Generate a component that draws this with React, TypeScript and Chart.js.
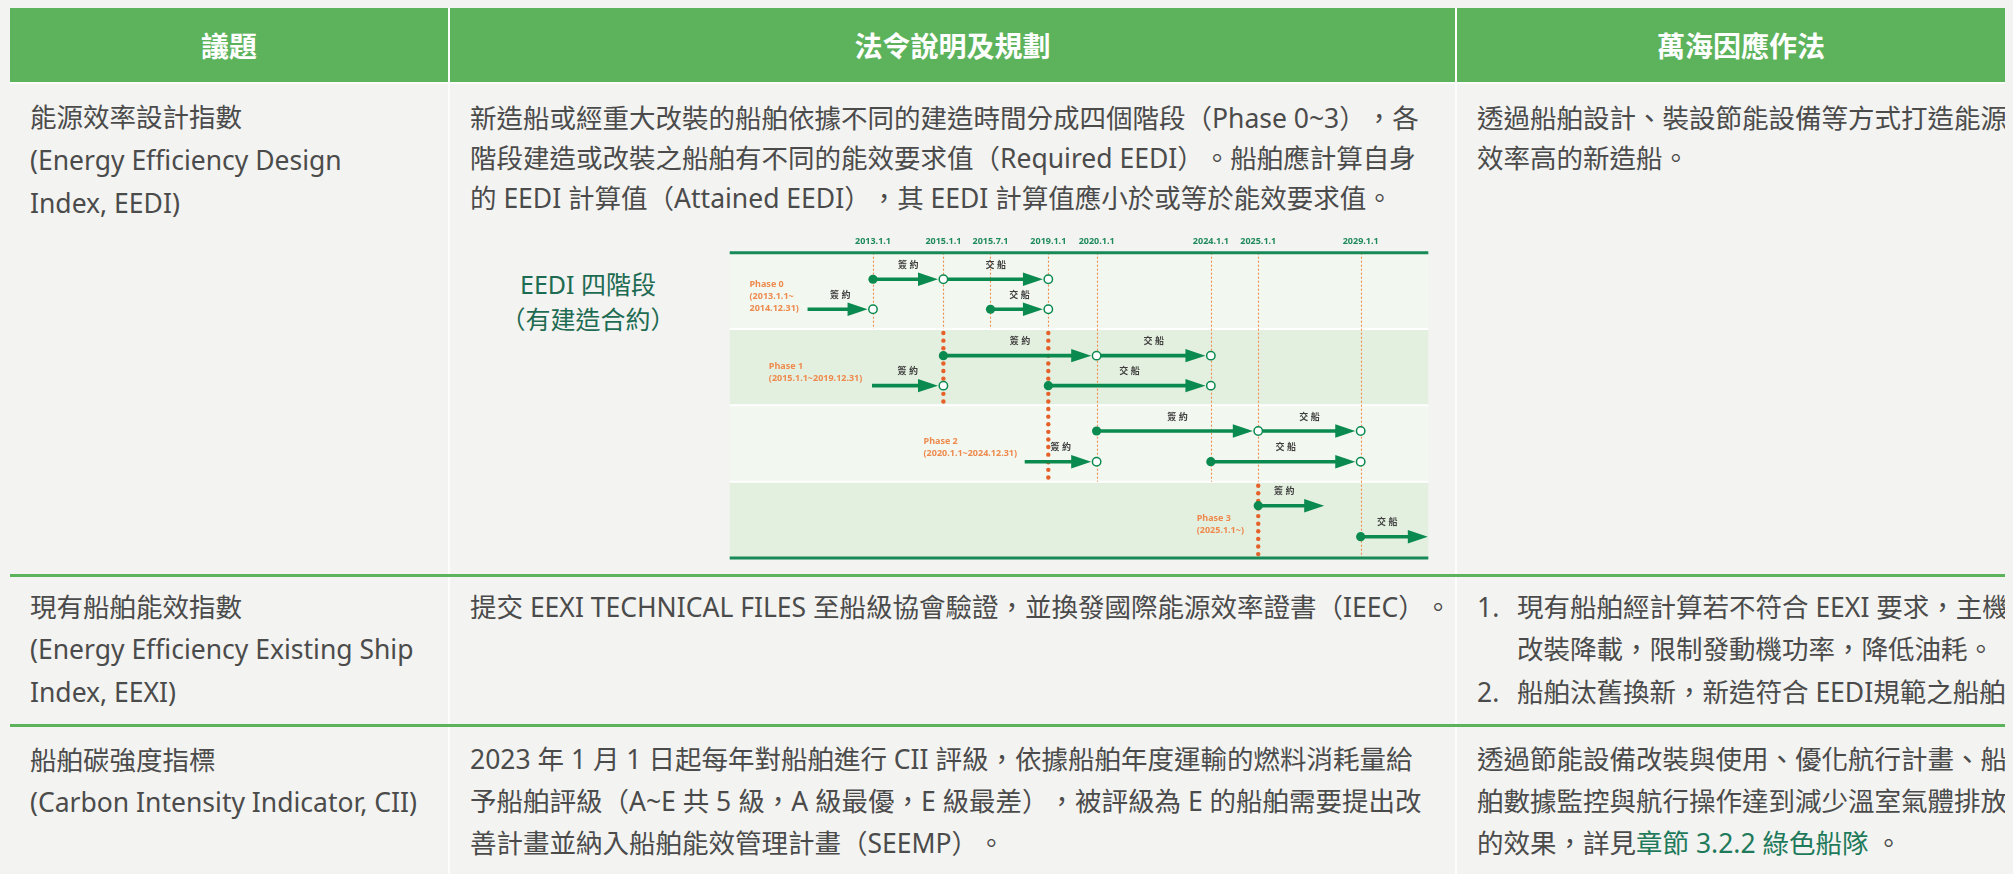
import React, { useEffect, useRef } from 'react';
import { Chart, registerables } from 'chart.js';

Chart.register(...registerables);

// ---------------- Table content ----------------
const headerTitles = ['議題', '法令說明及規劃', '萬海因應作法'];

const topicLines = [
  ['能源效率設計指數', '(Energy Efficiency Design', 'Index, EEDI)'],
  ['現有船舶能效指數', '(Energy Efficiency Existing Ship', 'Index, EEXI)'],
  ['船舶碳強度指標', '(Carbon Intensity Indicator, CII)'],
];

const regulationLines = [
  [
    '新造船或經重大改裝的船舶依據不同的建造時間分成四個階段（Phase 0~3），各',
    '階段建造或改裝之船舶有不同的能效要求值（Required EEDI）。船舶應計算自身',
    '的 EEDI 計算值（Attained EEDI），其 EEDI 計算值應小於或等於能效要求值。',
  ],
  ['提交 EEXI TECHNICAL FILES 至船級協會驗證，並換發國際能源效率證書（IEEC）。'],
  [
    '2023 年 1 月 1 日起每年對船舶進行 CII 評級，依據船舶年度運輸的燃料消耗量給',
    '予船舶評級（A~E 共 5 級，A 級最優，E 級最差），被評級為 E 的船舶需要提出改',
    '善計畫並納入船舶能效管理計畫（SEEMP）。',
  ],
];

const responseRow1 = ['透過船舶設計、裝設節能設備等方式打造能源', '效率高的新造船。'];
const responseRow2Items = [
  ['現有船舶經計算若不符合 EEXI 要求，主機', '改裝降載，限制發動機功率，降低油耗。'],
  ['船舶汰舊換新，新造符合 EEDI規範之船舶。'],
];
const responseRow3 = ['透過節能設備改裝與使用、優化航行計畫、船', '舶數據監控與航行操作達到減少溫室氣體排放'];
const responseRow3Last = ['的效果，詳見', '章節 3.2.2 綠色船隊', ' 。'];

const figureTitle = ['EEDI 四階段', '（有建造合約）'];

// ---------------- Timeline chart data ----------------
const dates = ['2013.1.1', '2015.1.1', '2015.7.1', '2019.1.1', '2020.1.1', '2024.1.1', '2025.1.1', '2029.1.1'];
// schematic positions of each milestone along the timeline axis
const datePos = [144.5, 215.5, 263, 321.3, 370, 485.2, 533, 636.3];
const axisMax = 704.5;

const phaseNames = ['Phase 0', 'Phase 1', 'Phase 2', 'Phase 3'];
const phaseRanges = [['(2013.1.1~', '2014.12.31)'], ['(2015.1.1~2019.12.31)'], ['(2020.1.1~2024.12.31)'], ['(2025.1.1~)']];
const phaseLabelX = [20, 39.5, 195.5, 471];
const phaseLabelY = [0.41, 1.485, 2.47, 3.48];

// lane offsets within each phase band
const laneY = [
  [0.348, 0.741],
  [0.349, 0.742],
  [0.336, 0.738],
  [0.315, 0.721],
];

const D = datePos;
const segPhase = [0, 0, 0, 0, 1, 1, 1, 1, 2, 2, 2, 2, 3, 3];
const segLane = [0, 0, 1, 1, 0, 0, 1, 1, 0, 0, 1, 1, 0, 1];
const segFrom = [D[0], D[1], 78.5, D[2], D[1], D[4], 143.5, D[3], D[4], D[6], 297.5, D[5], D[6], D[7]];
const segTo = [D[1], D[3], D[0], D[3], D[4], D[5], D[1], D[5], D[6], D[7], D[4], D[7], 599.5, 704];
const segStart = ['dot', 'ring', 'none', 'dot', 'dot', 'ring', 'none', 'dot', 'dot', 'ring', 'none', 'dot', 'dot', 'dot'];
const segEndRing = [true, true, true, true, true, true, true, true, true, true, true, true, false, false];
const segLabel = ['簽約', '交船', '簽約', '交船', '簽約', '交船', '簽約', '交船', '簽約', '交船', '簽約', '交船', '簽約', '交船'];

// vertical milestone guides: band ranges [from, to]
const thinRange: (number[] | null)[] = [[0, 1], [0, 1], [0, 1], [0, 1], [0, 3], [0, 3], [0, 3], [0, 4]];
const thickRange: (number[] | null)[] = [null, [1, 2], null, [1, 3], null, null, [3, 4], null];

// ---------------- Styles ----------------
const FONT = '"Noto Sans", "Noto Sans CJK TC", sans-serif';
const CANVAS_FONT = '"Noto Sans", "Noto Sans CJK TC"';
const HEADER_GREEN = '#5db35c';
const TEXT = '#4b4b4b';
const SEP = '#fcfcfb';
const ARROW_GREEN = '#0a8a4f';
const LINE_GREEN = '#178a58';
const DATE_GREEN = '#1f8a5b';
const ORANGE_THIN = '#f08b4f';
const ORANGE_THICK = '#e6602a';
const PHASE_ORANGE = '#ee8a4e';
const BAND_LIGHT = '#f2f7ef';
const BAND_DARK = '#e4f0df';
const RING_R = 4.2;
const HEAD_L = 20;
const HEAD_W = 6.7;

const timelinePlugin = {
  id: 'timeline',
  beforeDatasetsDraw(chart: any) {
    const { ctx, chartArea: ca, scales } = chart;
    const xs = scales.x;
    const ys = scales.y;
    const X = (v: number) => xs.getPixelForValue(v);
    const Y = (v: number) => ys.getPixelForValue(v);
    ctx.save();

    // bands
    for (let i = 0; i < 4; i++) {
      const t = Y(i);
      const b = Y(i + 1);
      ctx.fillStyle = i % 2 === 0 ? BAND_LIGHT : BAND_DARK;
      ctx.fillRect(ca.left, t, ca.right - ca.left, b - t);
    }
    ctx.strokeStyle = '#ffffff';
    ctx.lineWidth = 2;
    for (let i = 1; i < 4; i++) {
      ctx.beginPath();
      ctx.moveTo(ca.left, Y(i));
      ctx.lineTo(ca.right, Y(i));
      ctx.stroke();
    }

    // thin dotted guides
    ctx.strokeStyle = ORANGE_THIN;
    ctx.lineWidth = 1.1;
    ctx.setLineDash([2, 2]);
    thinRange.forEach((r, i) => {
      if (!r) return;
      const px = Math.round(X(datePos[i])) + 0.5;
      ctx.beginPath();
      ctx.moveTo(px, Y(r[0]));
      ctx.lineTo(px, Y(r[1]));
      ctx.stroke();
    });
    ctx.setLineDash([]);

    // thick dotted guides
    ctx.fillStyle = ORANGE_THICK;
    thickRange.forEach((r, i) => {
      if (!r) return;
      const px = X(datePos[i]);
      for (let yy = Y(r[0]) + 4; yy <= Y(r[1]) - 1; yy += 7.6) {
        ctx.beginPath();
        ctx.arc(px, yy, 2.2, 0, Math.PI * 2);
        ctx.fill();
      }
    });

    // arrows
    segPhase.forEach((ph, i) => {
      const yy = Y(ph + laneY[ph][segLane[i]]);
      const x0 = X(segFrom[i]);
      const x1 = X(segTo[i]);
      const sx = segStart[i] === 'ring' ? x0 + RING_R : x0;
      const tip = segEndRing[i] ? x1 - RING_R - 1.2 : x1;
      ctx.strokeStyle = ARROW_GREEN;
      ctx.lineWidth = 3.6;
      ctx.beginPath();
      ctx.moveTo(sx, yy);
      ctx.lineTo(tip - HEAD_L + 2, yy);
      ctx.stroke();
      ctx.fillStyle = ARROW_GREEN;
      ctx.beginPath();
      ctx.moveTo(tip, yy);
      ctx.lineTo(tip - HEAD_L, yy - HEAD_W);
      ctx.lineTo(tip - HEAD_L, yy + HEAD_W);
      ctx.closePath();
      ctx.fill();

      // label
      const mid = (x0 + x1) / 2 - (segEndRing[i] ? 0 : 7);
      ctx.fillStyle = '#3f3f3f';
      ctx.font = `bold 9px ${CANVAS_FONT}`;
      ctx.textAlign = 'center';
      ctx.textBaseline = 'middle';
      const chars = Array.from(segLabel[i]);
      chars.forEach((c, k) => {
        ctx.fillText(c, mid + (k - (chars.length - 1) / 2) * 11.5, yy - 14);
      });
    });

    // phase labels
    ctx.fillStyle = PHASE_ORANGE;
    ctx.font = `bold 9px ${CANVAS_FONT}`;
    ctx.textAlign = 'left';
    ctx.textBaseline = 'middle';
    phaseNames.forEach((name, i) => {
      const lines = [name, ...phaseRanges[i]];
      const bx = X(phaseLabelX[i]);
      const by = Y(phaseLabelY[i]);
      lines.forEach((l, k) => ctx.fillText(l, bx, by + k * 12));
    });

    // top & bottom rules
    ctx.strokeStyle = LINE_GREEN;
    ctx.lineWidth = 3;
    [0, 4].forEach((v) => {
      ctx.beginPath();
      ctx.moveTo(ca.left, Y(v));
      ctx.lineTo(ca.right, Y(v));
      ctx.stroke();
    });

    // milestone date labels
    ctx.fillStyle = DATE_GREEN;
    ctx.font = `bold 9px ${CANVAS_FONT}`;
    ctx.textAlign = 'center';
    ctx.textBaseline = 'middle';
    dates.forEach((d, i) => ctx.fillText(d, X(datePos[i]), Y(0) - 11));

    ctx.restore();
  },
};

function TimelineChart() {
  const ref = useRef<HTMLCanvasElement | null>(null);
  useEffect(() => {
    if (!ref.current) return;
    const dots: { x: number; y: number }[] = [];
    const rings: { x: number; y: number }[] = [];
    segPhase.forEach((ph, i) => {
      const y = ph + laneY[ph][segLane[i]];
      if (segStart[i] === 'dot') dots.push({ x: segFrom[i], y });
      if (segEndRing[i]) rings.push({ x: segTo[i], y });
    });
    const chart = new Chart(ref.current, {
      type: 'scatter',
      data: {
        datasets: [
          {
            label: 'dots',
            data: dots,
            pointRadius: 4.6,
            pointBackgroundColor: ARROW_GREEN,
            pointBorderWidth: 0,
            pointBorderColor: ARROW_GREEN,
            clip: false,
          } as any,
          {
            label: 'rings',
            data: rings,
            pointRadius: RING_R,
            pointBackgroundColor: '#ffffff',
            pointBorderColor: ARROW_GREEN,
            pointBorderWidth: 1.5,
            clip: false,
          } as any,
        ],
      },
      options: {
        animation: false,
        responsive: false,
        maintainAspectRatio: false,
        events: [],
        layout: { padding: { left: 2.5, right: 3, top: 22.7, bottom: 8 } },
        scales: {
          x: { type: 'linear', min: 0, max: axisMax, display: false },
          y: { type: 'linear', min: 0, max: 4, reverse: true, display: false },
        },
        plugins: { legend: { display: false }, tooltip: { enabled: false } },
      },
      plugins: [timelinePlugin],
    });
    return () => chart.destroy();
  }, []);
  return <canvas ref={ref} width={710} height={336} style={{ width: 710, height: 336, display: 'block' }} />;
}

// ---------------- Table layout ----------------
const COLW = [438, 1005, 568];
const ROW_H = [489.5, 147.5, 150];
const FIRST_CENTER = [33.8, 30.5, 33];

function Lines({ lines, lh }: { lines: React.ReactNode[]; lh: number }) {
  return (
    <>
      {lines.map((l, i) => (
        <div key={i} style={{ height: lh, lineHeight: lh + 'px', whiteSpace: 'pre' }}>
          {l}
        </div>
      ))}
    </>
  );
}

function Cell({ w, row, lh, children, extra }: { w: number; row: number; lh: number; children: React.ReactNode; extra?: React.ReactNode }) {
  return (
    <div
      style={{
        width: w,
        flex: 'none',
        boxSizing: 'border-box',
        paddingLeft: 20,
        paddingTop: FIRST_CENTER[row] - lh / 2,
        position: 'relative',
        overflow: 'visible',
      }}
    >
      {children}
      {extra}
    </div>
  );
}

const Sep = () => <div style={{ width: 2, flex: 'none', background: SEP }} />;

export default function App() {
  useEffect(() => {
    document.body.style.background = '#f3f3f1';
    document.body.style.margin = '8px';
    document.documentElement.style.overflow = 'hidden';
    document.body.style.overflow = 'hidden';
  }, []);

  const rowStyle = (i: number): React.CSSProperties => ({
    display: 'flex',
    height: ROW_H[i],
    borderTop: i > 0 ? `3px solid ${HEADER_GREEN}` : undefined,
  });

  return (
    <div
      style={{
        position: 'relative',
        width: 2003,
        height: 866,
        marginLeft: 2,
        overflow: 'hidden',
        fontFamily: FONT,
        fontSize: 26.5,
        color: TEXT,
        ['textSpacingTrim' as any]: 'space-all',
      }}
    >
      <div style={{ width: 2040 }}>
        {/* header */}
        <div style={{ display: 'flex', height: 74, borderBottom: `2px solid ${SEP}` }}>
          {headerTitles.map((t, i) => (
            <React.Fragment key={i}>
              {i > 0 && <div style={{ width: 2, flex: 'none', background: SEP }} />}
              <div
                style={{
                  width: COLW[i],
                  flex: 'none',
                  background: HEADER_GREEN,
                  color: '#ffffff',
                  fontWeight: 700,
                  fontSize: 28,
                  display: 'flex',
                  alignItems: 'center',
                  justifyContent: 'center',
                  whiteSpace: 'nowrap',
                }}
              >
                {t}
              </div>
            </React.Fragment>
          ))}
        </div>

        {/* row 1 */}
        <div style={rowStyle(0)}>
          <Cell w={COLW[0]} row={0} lh={43}>
            <Lines lines={topicLines[0]} lh={43} />
          </Cell>
          <Sep />
          <Cell
            w={COLW[1]}
            row={0}
            lh={40}
            extra={
              <>
                <div
                  style={{
                    position: 'absolute',
                    left: 18,
                    top: 182.5,
                    width: 240,
                    textAlign: 'center',
                    fontSize: 25,
                    lineHeight: '35px',
                    color: '#1d6b52',
                    whiteSpace: 'nowrap',
                  }}
                >
                  {figureTitle.map((t, i) => (
                    <div key={i}>{t}</div>
                  ))}
                </div>
                <div style={{ position: 'absolute', left: 274, top: 146 }}>
                  <TimelineChart />
                </div>
              </>
            }
          >
            <Lines lines={regulationLines[0]} lh={40} />
          </Cell>
          <Sep />
          <Cell w={COLW[2]} row={0} lh={40}>
            <Lines lines={responseRow1} lh={40} />
          </Cell>
        </div>

        {/* row 2 */}
        <div style={rowStyle(1)}>
          <Cell w={COLW[0]} row={1} lh={42.5}>
            <Lines lines={topicLines[1]} lh={42.5} />
          </Cell>
          <Sep />
          <Cell w={COLW[1]} row={1} lh={42.5}>
            <Lines lines={regulationLines[1]} lh={42.5} />
          </Cell>
          <Sep />
          <Cell w={COLW[2]} row={1} lh={42.5}>
            {responseRow2Items.map((item, i) => (
              <div key={i} style={{ position: 'relative', paddingLeft: 40 }}>
                <div style={{ position: 'absolute', left: 0, top: 0, height: 42.5, lineHeight: '42.5px' }}>{i + 1}.</div>
                <Lines lines={item} lh={42.5} />
              </div>
            ))}
          </Cell>
        </div>

        {/* row 3 */}
        <div style={rowStyle(2)}>
          <Cell w={COLW[0]} row={2} lh={42}>
            <Lines lines={topicLines[2]} lh={42} />
          </Cell>
          <Sep />
          <Cell w={COLW[1]} row={2} lh={41.7}>
            <Lines lines={regulationLines[2]} lh={41.7} />
          </Cell>
          <Sep />
          <Cell w={COLW[2]} row={2} lh={41.7}>
            <Lines
              lines={[
                ...responseRow3,
                <span key="l">
                  {responseRow3Last[0]}
                  <span style={{ color: '#1e7a5a' }}>{responseRow3Last[1]}</span>
                  {responseRow3Last[2]}
                </span>,
              ]}
              lh={41.7}
            />
          </Cell>
        </div>
      </div>
    </div>
  );
}
